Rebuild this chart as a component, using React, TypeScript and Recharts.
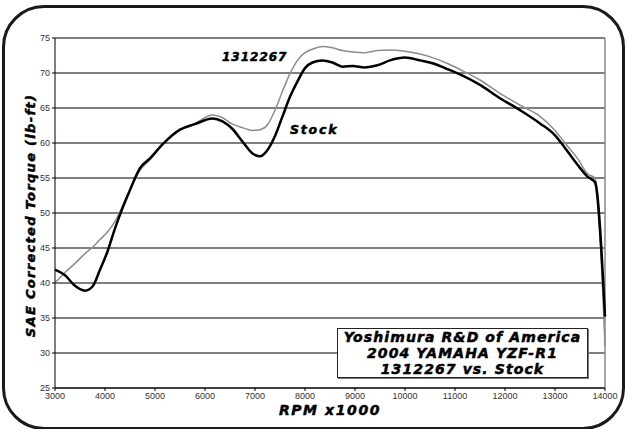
import { LineChart, Line, XAxis, YAxis, CartesianGrid, ReferenceLine } from 'recharts';

// engine speed (rpm) sample points shared by both runs
const rpm = [
  3000, 3200, 3400, 3600, 3750, 3900, 4050, 4200, 4350, 4500, 4700, 4900, 5150, 5500, 5800,
  6150, 6350, 6550, 6750, 6950, 7100, 7250, 7400, 7550, 7700, 7850, 8000, 8150, 8350, 8550,
  8750, 8950, 9200, 9450, 9700, 10000, 10300, 10550, 10800, 11100, 11500, 11900, 12300,
  12700, 13000, 13200, 13450, 13650, 13800, 14000,
];

// 1312267 pipe (gray)
const pipeTorque = [
  40.0, 41.5, 42.8, 44.2, 45.1, 46.2, 47.3, 48.8, 51.0, 53.3, 56.1, 57.6, 59.8, 61.9, 62.8,
  64.0, 63.6, 62.7, 62.2, 61.8, 61.9, 62.6, 64.7, 67.4, 69.9, 71.8, 72.9, 73.4, 73.8, 73.6,
  73.2, 73.0, 72.9, 73.2, 73.3, 73.1, 72.7, 72.2, 71.5, 70.5, 69.0, 67.1, 65.4,
  63.8, 61.8, 60.0, 57.8, 55.6, 55.0, 31.0,
];

// stock exhaust (black)
const stockTorque = [
  41.9, 41.1, 39.6, 38.9, 39.5, 41.9, 44.5, 47.8, 50.7, 53.3, 56.4, 57.8, 59.8, 61.9, 62.7,
  63.5, 63.1, 62.0, 60.2, 58.5, 58.1, 59.0, 61.0, 63.8, 66.6, 68.8, 70.7, 71.5, 71.8, 71.5,
  70.9, 71.0, 70.8, 71.1, 71.8, 72.2, 71.8, 71.4, 70.7, 69.8, 68.3, 66.4, 64.7,
  62.8, 61.1, 59.3, 56.9, 55.2, 54.4, 35.2,
];

const xTicks = [3000, 4000, 5000, 6000, 7000, 8000, 9000, 10000, 11000, 12000, 13000, 14000];
const yTicks = [25, 30, 35, 40, 45, 50, 55, 60, 65, 70, 75];

const boxLines = ['Yoshimura R&D of America', '2004 YAMAHA YZF-R1', '1312267 vs. Stock'];

const data = rpm.map((r, i) => ({ rpm: r, pipe: pipeTorque[i], stock: stockTorque[i] }));

// wide, heavy italic look of the original lettering
const heavy = {
  fontFamily: '"DejaVu Sans", sans-serif',
  fontWeight: 'bold' as const,
  fontStyle: 'italic' as const,
  color: '#000',
  whiteSpace: 'nowrap' as const,
  WebkitTextStroke: '0.5px #000',
};

const tickStyle = { fontFamily: 'Arial, "Liberation Sans", sans-serif', fontSize: 9, fill: '#333' };

export default function App() {
  return (
    <div style={{ position: 'absolute', left: 0, top: 0, width: 627, height: 429, background: '#fff', overflow: 'hidden' }}>
      <div
        style={{
          position: 'absolute',
          left: 2,
          top: 5,
          width: 617,
          height: 419,
          border: '3px solid #1a1a1a',
          borderRadius: 42,
        }}
      />
      <LineChart
        width={627}
        height={429}
        data={data}
        margin={{ top: 38, right: 22, left: 0, bottom: 0 }}
        style={{ position: 'absolute', left: 0, top: 0 }}
      >
        <CartesianGrid horizontal vertical={false} stroke="#000" strokeWidth={1} />
        <XAxis
          dataKey="rpm"
          type="number"
          domain={[3000, 14000]}
          ticks={xTicks}
          height={41}
          tickSize={3}
          tick={tickStyle}
          stroke="#000"
          interval={0}
        />
        <YAxis
          type="number"
          domain={[25, 75]}
          ticks={yTicks}
          width={55}
          tickSize={3}
          tick={tickStyle}
          stroke="#000"
          interval={0}
        />
        <ReferenceLine x={14000} stroke="#888" strokeWidth={1.5} />
        <Line dataKey="pipe" type="monotone" stroke="#8c8c8c" strokeWidth={1.5} dot={false} isAnimationActive={false} />
        <Line dataKey="stock" type="monotone" stroke="#000" strokeWidth={2.5} dot={false} isAnimationActive={false} />
      </LineChart>

      <div
        style={{
          ...heavy,
          position: 'absolute',
          left: 30 - 150,
          top: 217 - 9,
          width: 300,
          textAlign: 'center',
          fontSize: 13,
          letterSpacing: 1.3,
          transform: 'rotate(-90deg)',
        }}
      >
        SAE Corrected Torque (lb-ft)
      </div>
      <div
        style={{ ...heavy, position: 'absolute', left: 230, top: 402, width: 200, textAlign: 'center', fontSize: 14, letterSpacing: 1.6 }}
      >
        RPM x1000
      </div>
      <div style={{ ...heavy, position: 'absolute', left: 222, top: 50, fontSize: 12, letterSpacing: 1 }}>1312267</div>
      <div style={{ ...heavy, position: 'absolute', left: 290, top: 122, fontSize: 12.5, letterSpacing: 1.8 }}>Stock</div>

      <div
        style={{
          position: 'absolute',
          left: 337,
          top: 328,
          width: 249,
          height: 48,
          border: '1px solid #222',
          background: '#fff',
          boxShadow: '1px 1px 0 #777',
        }}
      >
        {boxLines.map((t) => (
          <div key={t} style={{ ...heavy, textAlign: 'center', fontSize: 14, lineHeight: '16px', letterSpacing: 1.1 }}>
            {t}
          </div>
        ))}
      </div>
    </div>
  );
}
